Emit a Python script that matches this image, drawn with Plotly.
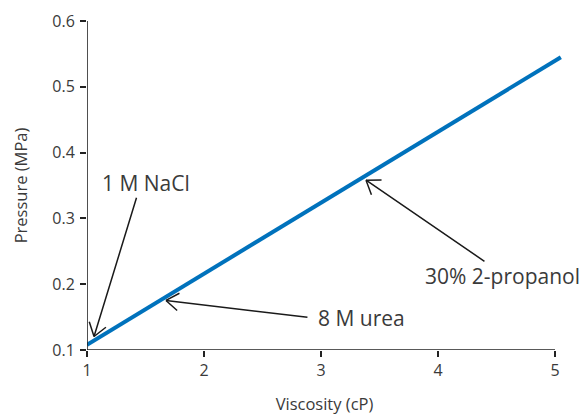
import math
import plotly.graph_objects as go

# Data
viscosity = [1.0, 5.05]          # cP
pressure = [0.108, 0.545]        # MPa

x_ticks = [1, 2, 3, 4, 5]
y_ticks = [0.1, 0.2, 0.3, 0.4, 0.5, 0.6]

labels = ["1 M NaCl", "8 M urea", "30% 2-propanol"]
label_x = [1.111, 2.960, 3.875]
label_y = [0.3534, 0.148, 0.2123]
arrow_head_x = [1.060, 1.675, 3.385]
arrow_head_y = [0.1205, 0.1753, 0.358]
arrow_tail_x = [1.427, 2.897, 4.410]
arrow_tail_y = [0.3336, 0.1495, 0.2332]

FONT = "Open Sans"
TEXT = "#3a3a3a"
AXIS = "#222222"
ARROW = "#1a1a1a"

W, H = 587, 414
M = dict(l=79, r=33, t=13, b=72)
X_RANGE = [1, 5.06]
Y_RANGE = [0.1, 0.6]

fig = go.Figure()
fig.add_trace(go.Scatter(
    x=viscosity, y=pressure, mode="lines",
    line=dict(color="#0072bc", width=4),
    showlegend=False, hoverinfo="skip",
))

for t, lx, ly in zip(labels, label_x, label_y):
    fig.add_annotation(x=lx, y=ly, xref="x", yref="y", text=t, showarrow=False,
                       xanchor="left", yanchor="middle",
                       font=dict(family=FONT, size=21, color=TEXT))

# pixel scale of the axes (for open chevron arrow heads)
px_x = (W - M["l"] - M["r"]) / (X_RANGE[1] - X_RANGE[0])
px_y = (H - M["t"] - M["b"]) / (Y_RANGE[1] - Y_RANGE[0])
ARM_LEN, ARM_ANG = 17, math.radians(35)

for hx, hy, tx, ty in zip(arrow_head_x, arrow_head_y, arrow_tail_x, arrow_tail_y):
    fig.add_annotation(x=hx, y=hy, ax=tx, ay=ty, xref="x", yref="y",
                       axref="x", ayref="y", text="", showarrow=True,
                       arrowhead=0, arrowwidth=1.5, arrowcolor=ARROW)
    dx = (tx - hx) * px_x
    dy = -(ty - hy) * px_y
    n = math.hypot(dx, dy)
    ux, uy = dx / n, dy / n
    for s in (1, -1):
        c, si = math.cos(s * ARM_ANG), math.sin(s * ARM_ANG)
        vx = (ux * c - uy * si) * ARM_LEN
        vy = (ux * si + uy * c) * ARM_LEN
        fig.add_annotation(x=hx, y=hy, xref="x", yref="y", ax=vx, ay=vy,
                           text="", showarrow=True, arrowhead=0,
                           arrowwidth=1.5, arrowcolor=ARROW)

# axis spines
fig.add_shape(type="line", xref="x", yref="y", x0=x_ticks[0], x1=x_ticks[-1],
              y0=y_ticks[0], y1=y_ticks[0], line=dict(color=AXIS, width=1.6))
fig.add_shape(type="line", xref="x", yref="y", x0=x_ticks[0], x1=x_ticks[0],
              y0=y_ticks[0], y1=y_ticks[-1], line=dict(color=AXIS, width=1.6))

fig.update_xaxes(range=X_RANGE, tickvals=x_ticks, ticktext=[str(v) for v in x_ticks],
                 showgrid=False, zeroline=False, showline=False, automargin=False,
                 ticks="outside", ticklen=6, tickwidth=1.6, tickcolor=AXIS,
                 tickfont=dict(family=FONT, size=16, color=TEXT),
                 title=dict(text="Viscosity (cP)", standoff=18,
                            font=dict(family=FONT, size=16.5, color=TEXT)))
fig.update_yaxes(range=Y_RANGE, tickvals=y_ticks, ticktext=[f"{v:.1f}" for v in y_ticks],
                 showgrid=False, zeroline=False, showline=False, automargin=False,
                 ticks="outside", ticklen=6, tickwidth=1.6, tickcolor=AXIS,
                 ticklabelstandoff=2,
                 tickfont=dict(family=FONT, size=16, color=TEXT),
                 title=dict(text="Pressure (MPa)", standoff=20,
                            font=dict(family=FONT, size=16.5, color=TEXT)))

fig.update_layout(width=W, height=H, margin=M,
                  plot_bgcolor="white", paper_bgcolor="white")

fig.write_html("out.html")
